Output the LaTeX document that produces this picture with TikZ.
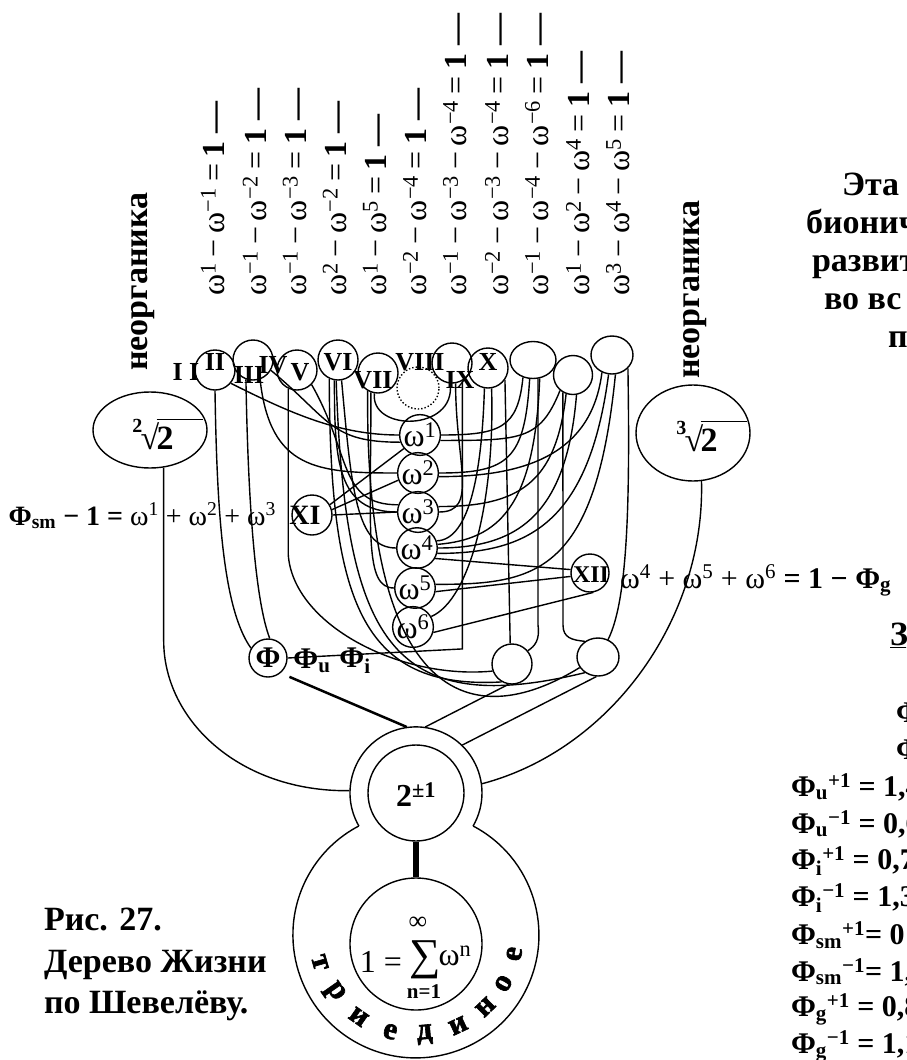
\documentclass[tikz,border=0pt]{standalone}
\usepackage{fontspec}
\setmainfont{Liberation Serif}
\usetikzlibrary{shapes.geometric}
\newcommand\fs[1]{\fontsize{#1}{#1}\selectfont}
\newcommand\supr[1]{\textsuperscript{#1}}
\newcommand\mn{\hspace{0.18em}−\hspace{0.18em}}
\newcommand\rootlbl[1]{\raisebox{0.5em}{\fs{20}#1}\kern-0.05em√\kern-0.08em\rlap{\rule[0.86em]{1.35em}{1.3pt}}2}

\begin{document}
\begin{tikzpicture}[x=1pt,y=-1pt,line width=1.4pt,
  ball/.style={circle,draw,minimum size=40pt,inner sep=0pt},
  oval/.style={ellipse,draw,inner sep=0pt},
  rom/.style={font=\bfseries\fs{26}},
  om/.style={font=\fs{32}},
  eq/.style={rotate=90,anchor=west,font=\fs{32}},
  big/.style={font=\bfseries\fs{34}},
  mid/.style={font=\bfseries\fs{30}},
  heavy/.style={font=\bfseries\fs{31}\addfontfeature{FakeBold=2}}]
\useasboundingbox (0,0) rectangle (906,1060);
\clip (0,0) rectangle (906,1060);

% formulas above the crown
\foreach \x/\fm [count=\i] in {213/{ω\supr{1}\mn ω\supr{−1}},255/{ω\supr{−1}\mn ω\supr{−2}},
  295/{ω\supr{−1}\mn ω\supr{−3}},335/{ω\supr{2}\mn ω\supr{−2}},375/{ω\supr{1}\mn ω\supr{5}},
  415/{ω\supr{−2}\mn ω\supr{−4}},455/{ω\supr{−1}\mn ω\supr{−3}\mn ω\supr{−4}},
  497/{ω\supr{−2}\mn ω\supr{−3}\mn ω\supr{−4}},537/{ω\supr{−1}\mn ω\supr{−4}\mn ω\supr{−6}},
  578/{ω\supr{1}\mn ω\supr{2}\mn ω\supr{4}},618/{ω\supr{3}\mn ω\supr{4}\mn ω\supr{5}}}
  \node[eq] (f\i) at (\x,300) {\fm\hspace{0.2em}=\hspace{0.2em}\textbf{1 —}};

\node[big,rotate=90,anchor=west] (inorgL) at (143,375) {неорганика};
\node[big,rotate=90,anchor=west] (inorgR) at (695,383) {неорганика};

% crown
\node[ball] (c2) at (215,370) {};
\node[ball] (c3) at (253,360) {};
\node[ball] (c5) at (297,370) {};
\node[ball] (c6) at (338,360) {};
\node[ball] (c7) at (378,373) {};
\node[ball,dotted,minimum size=42pt] (c8) at (418,388) {};
\node[ball] (c9) at (452,363) {};
\node[ball] (c10) at (488,368) {};
\node[oval,minimum width=46pt,minimum height=37pt] (c11) at (533,360) {};
\node[ball,minimum size=39pt] (c12) at (573,375) {};
\node[oval,minimum width=42pt,minimum height=38pt] (c13) at (612,355) {};

\node[rom] (l1) at (186,372) {I I};
\node[rom] (l2) at (215,362) {II};
\node[rom] (l3) at (249,375) {III};
\node[rom] (l4) at (273,365) {IV};
\node[rom] (l5) at (300,372) {V};
\node[rom] (l6) at (338,362) {VI};
\node[rom] (l7) at (373,380) {VII};
\node[rom] (l8) at (420,362) {VIII};
\node[rom] (l9) at (460,380) {IX};
\node[rom] (l10) at (488,362) {X};

% roots
\node[oval,minimum width=114pt,minimum height=76pt] (e2) at (150,430) {};
\node[big] (r2) at (153,434) {\rootlbl{2}};
\node[oval,minimum width=114pt,minimum height=96pt] (e3) at (693,433) {};
\node[big] (r3) at (697,436) {\rootlbl{3}};

% trunk of omegas
\foreach \x/\y [count=\i] in {420/435,418/473,418/512,417/548,415/588,413/627}
  \node[ball,om] (w\i) at (\x,\y) {ω\supr{\i}};

\node[ball] (c14) at (312,515) {};
\node[font=\bfseries\fs{28}] (l14) at (305,515) {XI};
\node[ball,minimum size=38pt] (c15) at (590,573) {};
\node[font=\bfseries\fs{24}] (l15) at (591,575) {XII};

\node[anchor=base east,font=\fs{28}] (sumL) at (280,525) {\textbf{Φ\textsubscript{sm} − 1 =} ω\supr{1} + ω\supr{2} + ω\supr{3}};
\node[anchor=base west,font=\fs{30}] (sumR) at (616,588) {ω\supr{4} + ω\supr{5} + ω\supr{6} \textbf{= 1 − Φ\textsubscript{g}}};

\node[ball,minimum size=38pt,mid] (phi) at (268,658) {Φ};
\node[mid] (phiu) at (312,661) {Φ\textsubscript{u}};
\node[mid] (phii) at (355,661) {Φ\textsubscript{i}};
\node[ball,minimum size=40pt] (b1) at (512,664) {};
\node[oval,minimum width=42pt,minimum height=38pt] (b2) at (598,657) {};

% root of the tree
\node[circle,draw,minimum size=96pt,inner sep=0pt] (two) at (416,793) {};
\node[font=\bfseries\fs{32}] (twol) at (416,795) {2\supr{±1}};
\node[circle,minimum size=132pt,inner sep=0pt] (ring) at (416,793) {};
\node[circle,minimum size=246pt,inner sep=0pt] (base) at (416,935) {};
\node[circle,draw,minimum size=132pt,inner sep=0pt] (one) at (416,944) {};
\draw (358.9,826) arc[start angle=149.9,end angle=390.1,radius=66];
\draw (473.1,826) arc[start angle=-62.3,end angle=242.3,radius=123];
\draw[line width=6pt] (two.south) -- (one.north);

\node[font=\fs{32}] (sum1) at (381,962) {1 =};
\node[font=\fs{44}] (sig) at (425,960) {∑};
\node[font=\fs{26}] (inf) at (418,923) {∞};
\node[font=\bfseries\fs{21}] (lim) at (424,992) {n=1};
\node[font=\fs{32}] (sum2) at (455,956) {ω\supr{n}};

\foreach \a/\l [count=\i] in {164/т,145/р,125/и,105/е,85/д,65/и,46/н,29/о,11/е}
  \node[heavy,rotate=90-\a] (t\i) at ([shift={(\a:100)}]base.center) {\l};

% captions
\node[big,anchor=base west] (cap1) at (40,930) {Рис. 27.};
\node[big,anchor=base west] (cap2) at (40,972) {Дерево Жизни};
\node[big,anchor=base west] (cap3) at (40,1013) {по Шевелёву.};

\node[big,anchor=base west] (txt1) at (838,195) {Эта};
\node[big,anchor=base west] (txt2) at (802,233) {бионич};
\node[big,anchor=base west] (txt3) at (808,271) {развит};
\node[big,anchor=base west] (txt4) at (820,309) {во вс};
\node[big,anchor=base west] (txt5) at (884,347) {п};

\node[big,anchor=west] (val0) at (886,635) {\underline{З}};
\node[mid,anchor=west] (valA) at (892,713) {Φ};
\node[mid,anchor=west] (valB) at (892,750) {Φ};
\foreach \t [count=\i] in {{Φ\textsubscript{u}\supr{+1} = 1,4},{Φ\textsubscript{u}\supr{−1} = 0,6},
  {Φ\textsubscript{i}\supr{+1} = 0,7},{Φ\textsubscript{i}\supr{−1} = 1,3},
  {Φ\textsubscript{sm}\supr{+1}= 0},{Φ\textsubscript{sm}\supr{−1}= 1,},
  {Φ\textsubscript{g}\supr{+1} = 0,8},{Φ\textsubscript{g}\supr{−1} = 1,1}}
  \node[mid,anchor=west] (val\i) at (787,750+37*\i) {\t};

% branches on the left
\draw (c2.south) .. controls (217,520) and (224,610) .. (phi.150);
\draw (c3.250) .. controls (248,500) and (255,600) .. (phi.85);
\draw (c2.-40) .. controls +(60,30) and +(-60,0) .. (w1.west);
\draw (c3.-30) .. controls +(60,50) and +(-70,0) .. (w1.200);
\draw (c3.-70) .. controls +(10,90) and +(-80,0) .. (w2.west);
\draw (c5.-45) .. controls +(40,70) and +(-60,0) .. (w3.160);
\draw (c6.-100) .. controls +(0,80) and +(-60,0) .. (w3.west);
\draw (c6.-80) .. controls +(10,110) and +(-40,0) .. (w4.west);
\draw (c7.-110) .. controls +(0,140) and +(-30,0) .. (w5.west);
\draw (c7.-100) .. controls (370,432) and (456,432) .. (c9.-95);
\draw (c5.-115) -- ++(0,166) .. controls +(5,70) and (400,680) .. (b1.200);
\draw (c6.-115) .. controls (330,600) and (360,690) .. (b1.-120);
\draw (c6.-95) .. controls (345,640) and (390,720) .. (b2.-130);
\draw (c7.-120) .. controls (365,700) and (470,735) .. (b2.-150);
\draw (c9.-60) -- ++(0,268) -- (phi.east);

% branches on the right
\draw (c10.-100) .. controls (482,470) and (470,540) .. (w4.20);
\draw (c10.-80) .. controls (495,500) and (470,600) .. (w6.30);
\draw (c9.-80) .. controls +(0,80) and +(40,0) .. (w3.east);
\draw (c11.-120) .. controls +(-5,50) and +(60,0) .. (w1.east);
\draw (c11.-100) .. controls +(-5,80) and +(70,0) .. (w2.east);
\draw (c11.-70) .. controls +(-5,130) and +(60,-5) .. (w4.10);
\draw (c12.-130) .. controls +(-20,50) and +(80,0) .. (w1.-15);
\draw (c12.-110) .. controls +(-10,90) and +(80,0) .. (w3.15);
\draw (c12.-80) .. controls +(-10,120) and +(80,0) .. (w4.0);
\draw (c13.-120) .. controls +(-10,80) and +(90,0) .. (w2.-10);
\draw (c13.-100) .. controls +(-20,150) and +(90,0) .. (w4.-15);
\draw (c13.-80) .. controls +(-20,200) and +(100,0) .. (w5.10);
\draw (c10.-35) -- (b1.95);
\draw (c11.-75) -- (538,625) .. controls (540,640) and (535,646) .. (b1.40);
\draw (c12.-120) -- (563,625) .. controls (563,638) and (572,640) .. (b2.130);
\draw (c13.-40) .. controls (630,500) and (628,600) .. (b2.60);

% XI and XII
\draw (c14.30) -- (w1.-140);
\draw (c14.15) -- (w2.200);
\draw (c14.east) -- (w3.west);
\draw (c15.170) -- (w4.-30);
\draw (c15.190) -- (w5.-10);
\draw (c15.-80) -- (w6.-15);

% down to the root
\draw (e2.-70) -- ++(0,173) .. controls +(0,80) and (240,792) .. (ring.178);
\draw (e3.-80) .. controls (705,620) and (610,750) .. (ring.8);
\draw[line width=2.5pt] (phiu.south west) -- (ring.98);
\draw (b1.-100) -- (ring.82);
\draw (b2.-95) -- (ring.46);
\end{tikzpicture}
\end{document}
